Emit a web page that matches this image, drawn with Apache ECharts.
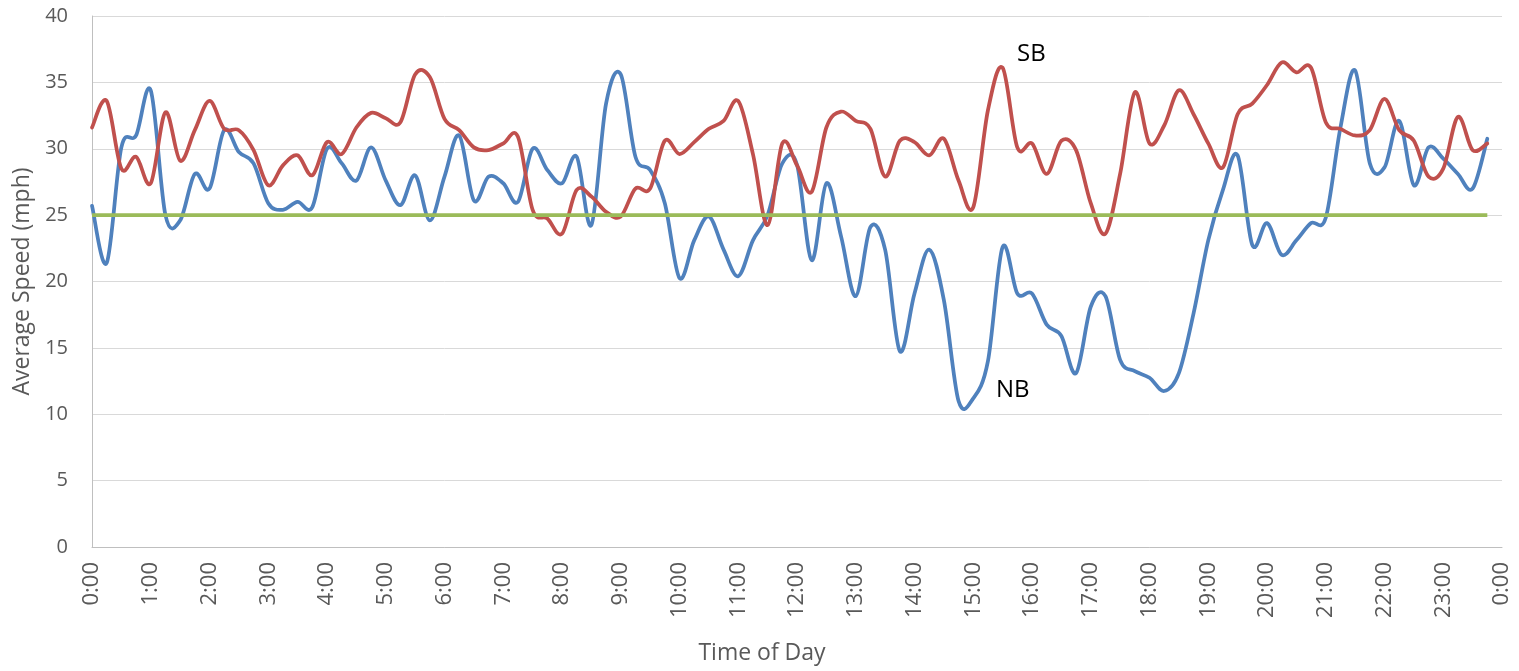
<!DOCTYPE html>
<html>
<head>
<meta charset="utf-8">
<script src="https://cdn.jsdelivr.net/npm/echarts@6/dist/echarts.min.js"></script>
<style>
    html, body { margin: 0; padding: 0; background: #fff; }
    #chart { width: 1519px; height: 671px; }
</style>
</head>
<body>
<div id="chart"></div>
<script>
// average speed every 15 minutes, starting at 0:00
var nbSpeed = [
    25.7, 21.4, 30.1, 31.0, 34.4, 25.0, 24.6, 28.1, 27.0, 31.4, 29.75, 28.9, 25.9, 25.4, 26.0, 25.6,
    30.0, 28.9, 27.6, 30.1, 27.6, 25.75, 28.0, 24.6, 27.9, 31.0, 26.1, 27.9, 27.4, 26.0, 30.0, 28.4,
    27.4, 29.4, 24.25, 33.4, 35.6, 29.4, 28.4, 25.9, 20.25, 23.1, 24.9, 22.4, 20.4, 23.1, 25.0, 28.9,
    28.8, 21.6, 27.4, 23.4, 18.9, 24.1, 22.4, 14.75, 19.1, 22.4, 18.6, 11.0, 11.2, 14.0, 22.6, 19.1,
    19.1, 16.75, 15.9, 13.1, 18.1, 18.9, 14.1, 13.25, 12.75, 11.75, 13.1, 17.6, 23.1, 26.9, 29.5, 22.75,
    24.4, 22.0, 23.1, 24.4, 24.8, 31.6, 35.9, 28.9, 28.6, 32.1, 27.25, 30.1, 29.25, 28.1, 27.0, 30.75
];
var sbSpeed = [
    31.6, 33.6, 28.5, 29.4, 27.4, 32.75, 29.1, 31.4, 33.6, 31.5, 31.4, 29.9, 27.25, 28.75, 29.5, 28.0,
    30.5, 29.6, 31.6, 32.7, 32.3, 32.0, 35.6, 35.4, 32.25, 31.4, 30.1, 29.9, 30.4, 30.9, 25.4, 24.75,
    23.6, 26.9, 26.4, 25.25, 24.9, 27.0, 27.0, 30.6, 29.6, 30.5, 31.5, 32.1, 33.6, 29.6, 24.25, 30.4,
    28.75, 26.75, 31.6, 32.8, 32.1, 31.5, 27.9, 30.6, 30.5, 29.5, 30.75, 27.6, 25.6, 32.9, 36.1, 30.1,
    30.4, 28.1, 30.6, 29.9, 25.9, 23.6, 28.1, 34.25, 30.4, 31.75, 34.4, 32.6, 30.4, 28.6, 32.6, 33.4,
    34.8, 36.5, 35.75, 36.1, 32.0, 31.5, 31.0, 31.4, 33.75, 31.4, 30.6, 27.9, 28.5, 32.4, 29.9, 30.4
];
var speedLimit = 25;
var stepHours = 0.25;

var font = '"Open Sans", "Liberation Sans", sans-serif';
var textGrey = '#595959';

function toPoints(arr) {
    return arr.map(function (v, i) { return [i * stepHours, v]; });
}

// Excel-like smoothed line: catmull-rom through the points, placed with api.coord
function smoothSeries(name, values, color) {
    var pts = toPoints(values);
    return {
        name: name,
        type: 'custom',
        data: pts,
        encode: { x: 0, y: 1 },
        renderItem: function (params, api) {
            if (params.dataIndex !== 0) return null;
            var px = pts.map(function (p) { return api.coord(p); });
            var d = 'M' + px[0][0] + ' ' + px[0][1];
            for (var i = 0; i < px.length - 1; i++) {
                var p0 = px[i - 1] || px[i];
                var p1 = px[i];
                var p2 = px[i + 1];
                var p3 = px[i + 2] || px[i + 1];
                var c1x = p1[0] + (p2[0] - p0[0]) / 6;
                var c1y = p1[1] + (p2[1] - p0[1]) / 6;
                var c2x = p2[0] - (p3[0] - p1[0]) / 6;
                var c2y = p2[1] - (p3[1] - p1[1]) / 6;
                d += ' C' + c1x + ' ' + c1y + ' ' + c2x + ' ' + c2y + ' ' + p2[0] + ' ' + p2[1];
            }
            return {
                type: 'path',
                shape: { pathData: d },
                style: { fill: null, stroke: color, lineWidth: 3.75, lineJoin: 'round', lineCap: 'round' }
            };
        }
    };
}

var myChart = echarts.init(document.getElementById('chart'));

var option = {
    animation: false,
    backgroundColor: '#fff',
    grid: { left: 92, right: 17, top: 16, bottom: 124, containLabel: false, outerBoundsMode: 'none' },
    xAxis: {
        type: 'value',
        min: 0,
        max: 24,
        interval: 1,
        name: 'Time of Day',
        nameLocation: 'middle',
        nameGap: 95,
        nameTextStyle: { color: textGrey, fontFamily: font, fontSize: 23, padding: [0, 70, 0, 0] },
        axisLine: { show: true, lineStyle: { color: '#BFBFBF', width: 1 } },
        axisTick: { show: false },
        splitLine: { show: false },
        axisLabel: {
            rotate: 90,
            margin: 15,
            color: textGrey,
            fontFamily: font,
            fontSize: 22,
            formatter: function (v) { return (v % 24) + ':00'; }
        }
    },
    yAxis: {
        type: 'value',
        min: 0,
        max: 40,
        interval: 5,
        name: 'Average Speed (mph)',
        nameLocation: 'middle',
        nameRotate: 90,
        nameGap: 58,
        nameTextStyle: { color: textGrey, fontFamily: font, fontSize: 23 },
        axisLine: { show: true, lineStyle: { color: '#BFBFBF', width: 1 } },
        axisTick: { show: false },
        splitLine: { lineStyle: { color: '#D9D9D9', width: 1 } },
        axisLabel: { margin: 24, color: textGrey, fontFamily: font, fontSize: 20 }
    },
    series: [
        smoothSeries('NB', nbSpeed, '#4F81BD'),
        smoothSeries('SB', sbSpeed, '#C0504D'),
        {
            name: 'Speed Limit',
            type: 'line',
            showSymbol: false,
            data: nbSpeed.map(function (v, i) { return [i * stepHours, speedLimit]; }),
            lineStyle: { color: '#9BBB59', width: 3.75 },
            itemStyle: { color: '#9BBB59' }
        }
    ],
    graphic: [
        {
            type: 'text', left: 1017, top: 42,
            style: { text: 'SB', fill: '#000', font: '24px ' + font }
        },
        {
            type: 'text', left: 996, top: 378,
            style: { text: 'NB', fill: '#000', font: '24px ' + font }
        }
    ]
};

myChart.setOption(option);
</script>
</body>
</html>
